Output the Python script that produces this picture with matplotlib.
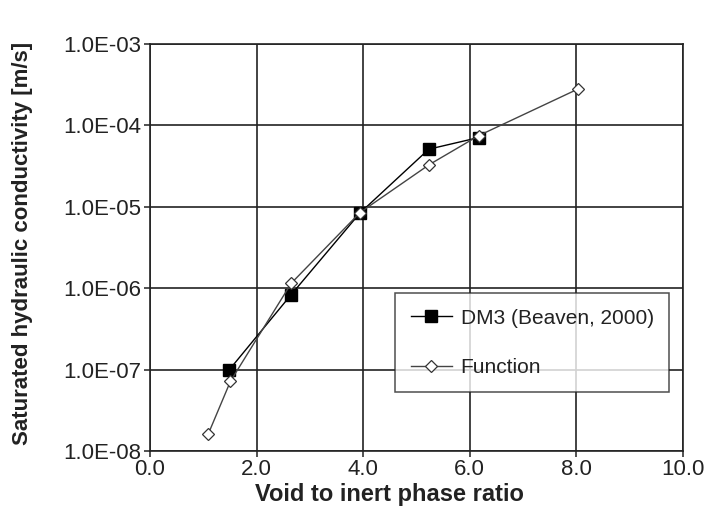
import math
import matplotlib
matplotlib.use("Agg")
import matplotlib.pyplot as plt
from matplotlib.ticker import FuncFormatter, FixedLocator, NullLocator

plt.rcParams['font.family'] = ['Liberation Sans', 'DejaVu Sans']

dm3_x = [1.49, 2.64, 3.94, 5.23, 6.17]
dm3_y = [1.0e-7, 8.2e-7, 8.4e-6, 5.1e-5, 7.1e-5]
fun_x = [1.09, 1.51, 2.65, 3.94, 5.24, 6.17, 8.03]
fun_y = [1.6e-8, 7.2e-8, 1.15e-6, 8.5e-6, 3.3e-5, 7.5e-5, 2.8e-4]

x_ticks = [0.0, 2.0, 4.0, 6.0, 8.0, 10.0]
y_ticks = [1e-8, 1e-7, 1e-6, 1e-5, 1e-4, 1e-3]

W, H = 709, 508
L, R, T, B = 150, 683, 44, 451
fig = plt.figure(figsize=(W / 100, H / 100), dpi=100)
ax = fig.add_axes([L / W, 1 - B / H, (R - L) / W, (B - T) / H])

ax.plot(dm3_x, dm3_y, color='black', lw=1.0, marker='s', ms=8.5,
        mfc='black', mec='black', label='DM3 (Beaven, 2000)', zorder=3)
ax.plot(fun_x, fun_y, color='#444444', lw=1.0, marker='D', ms=6.5,
        mfc='white', mec='#333333', mew=0.9, label='Function', zorder=4)

ax.set_yscale('log')
ax.set_xlim(0, 10)
ax.set_ylim(1e-8, 1e-3)
ax.xaxis.set_major_locator(FixedLocator(x_ticks))
ax.yaxis.set_major_locator(FixedLocator(y_ticks))
ax.yaxis.set_minor_locator(NullLocator())
ax.xaxis.set_major_formatter(FuncFormatter(lambda v, p: f"{v:.1f}"))


def efmt(v, p):
    e = int(round(math.log10(v)))
    sign = '-' if e < 0 else '+'
    return f"1.0E{sign}{abs(e):02d}"


ax.yaxis.set_major_formatter(FuncFormatter(efmt))

ax.grid(True, color='#222222', lw=1.2)
for s in ax.spines.values():
    s.set_color('#222222')
    s.set_linewidth(1.2)
ax.tick_params(axis='both', labelsize=16, length=4, width=1.1,
               color='#222222', labelcolor='#222222', pad=2.5)
ax.tick_params(axis='x', pad=1.5)

xl = ax.set_xlabel('Void to inert phase ratio', fontsize=17,
                   fontweight='bold', color='#222222')
xl.set_va('center')
ax.xaxis.set_label_coords((389 - L) / (R - L), (B - 494) / (B - T))
yl = ax.set_ylabel('Saturated hydraulic conductivity [m/s]', fontsize=16,
                   fontweight='bold', color='#222222')
yl.set_va('center')
ax.yaxis.set_label_coords((23 - L) / (R - L), (B - 243) / (B - T))

leg = ax.legend(loc='upper left',
                bbox_to_anchor=((395 - L) / (R - L), (B - 293) / (B - T)),
                fontsize=15, frameon=True, fancybox=False, edgecolor='#222222',
                handlelength=2.0, handletextpad=0.4, labelspacing=1.45,
                borderpad=0.75, borderaxespad=0)
leg.get_frame().set_linewidth(1.1)
for t in leg.get_texts():
    t.set_color('#222222')

fig.savefig('out.png', dpi=100)
